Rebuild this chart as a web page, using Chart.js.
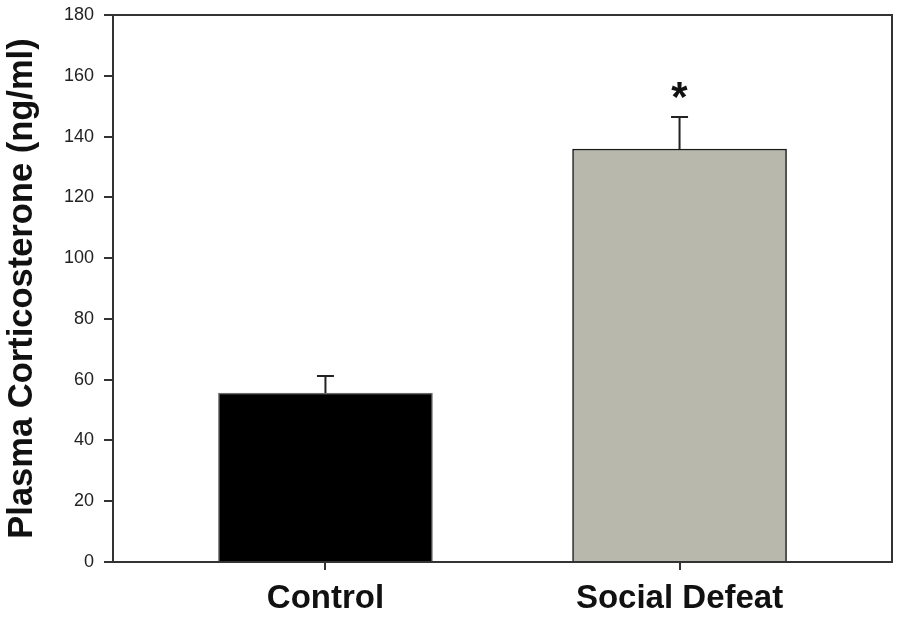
<!DOCTYPE html>
<html lang="en">
<head>
    <meta charset="UTF-8">
    <title>Plasma Corticosterone</title>
    <script src="https://cdn.jsdelivr.net/npm/chart.js"></script>
    <style>
        body { margin: 0; background: #fff; }
    </style>
</head>
<body>
    <canvas id="chart" width="900" height="618"></canvas>

    <script>
        const groups = ['Control', 'Social Defeat'];
        const corticosterone = [55.6, 135.9];
        const sem = [5.6, 10.5];
        const significance = ['', '*'];
        const yTicks = [0, 20, 40, 60, 80, 100, 120, 140, 160, 180];

        const barColors = ['#000000', '#b8b8ac'];
        const barBorders = ['#6a6a6a', '#1a1a1a'];

        // error bars (upper only) + significance stars
        const errorBars = {
            id: 'errorBars',
            afterDatasetsDraw(chart) {
                const ctx = chart.ctx;
                const x = chart.scales.x;
                const y = chart.scales.y;
                ctx.save();
                ctx.strokeStyle = '#222';
                ctx.lineWidth = 2;
                corticosterone.forEach((v, i) => {
                    const px = x.getPixelForValue(i + 1);
                    const top = y.getPixelForValue(v);
                    const hi = y.getPixelForValue(v + sem[i]);
                    ctx.beginPath();
                    ctx.moveTo(px, top);
                    ctx.lineTo(px, hi);
                    ctx.moveTo(px - 8.5, hi);
                    ctx.lineTo(px + 8.5, hi);
                    ctx.stroke();
                    if (significance[i]) {
                        ctx.fillStyle = '#111';
                        ctx.font = 'bold 42px "Liberation Sans", Arial, sans-serif';
                        ctx.textAlign = 'center';
                        ctx.textBaseline = 'alphabetic';
                        ctx.fillText(significance[i], px, hi - 6);
                    }
                });
                // box round the plot
                const a = chart.chartArea;
                ctx.strokeStyle = '#333';
                ctx.lineWidth = 2;
                ctx.strokeRect(a.left, a.top, a.right - a.left, a.bottom - a.top);
                ctx.restore();
            }
        };

        new Chart(document.getElementById('chart'), {
            type: 'bar',
            data: {
                datasets: [{
                    data: corticosterone.map((v, i) => ({ x: i + 1, y: v })),
                    backgroundColor: barColors,
                    borderColor: barBorders,
                    borderWidth: 1.5,
                    barThickness: 214,
                }],
            },
            options: {
                responsive: false,
                animation: false,
                layout: { padding: { top: 15, right: 8, left: 0, bottom: 0 } },
                plugins: {
                    legend: { display: false },
                    tooltip: { enabled: false },
                },
                scales: {
                    x: {
                        type: 'linear',
                        min: 0.4,
                        max: 2.6,
                        offset: false,
                        afterBuildTicks: (scale) => {
                            scale.ticks = groups.map((g, i) => ({ value: i + 1 }));
                        },
                        afterFit: (scale) => { scale.height = 56; },
                        grid: { offset: false, drawOnChartArea: false, drawTicks: true, tickLength: 8, color: '#333', lineWidth: 2 },
                        border: { display: true, color: '#333', width: 2 },
                        ticks: {
                            autoSkip: false,
                            maxRotation: 0,
                            padding: 9,
                            color: '#111',
                            font: { family: '"Liberation Sans", Arial, sans-serif', size: 33, weight: 'bold' },
                            callback: (value) => groups[value - 1] || '',
                        },
                    },
                    y: {
                        min: 0,
                        max: 180,
                        afterBuildTicks: (scale) => {
                            scale.ticks = yTicks.map(v => ({ value: v }));
                        },
                        afterFit: (scale) => {
                            scale.width = 113;
                            scale.paddingTop = 0;
                            scale.paddingBottom = 0;
                        },
                        grid: { drawOnChartArea: false, drawTicks: true, tickLength: 9, color: '#333', lineWidth: 2 },
                        border: { display: true, color: '#333', width: 2 },
                        ticks: {
                            padding: 10,
                            color: '#222',
                            font: { family: '"Liberation Sans", Arial, sans-serif', size: 18 },
                        },
                        title: {
                            display: true,
                            text: 'Plasma Corticosterone (ng/ml)',
                            color: '#111',
                            padding: { top: 2, bottom: 0 },
                            font: { family: '"Liberation Sans", Arial, sans-serif', size: 34.5, weight: 'bold' },
                        },
                    },
                },
            },
            plugins: [errorBars],
        });
    </script>
</body>
</html>
